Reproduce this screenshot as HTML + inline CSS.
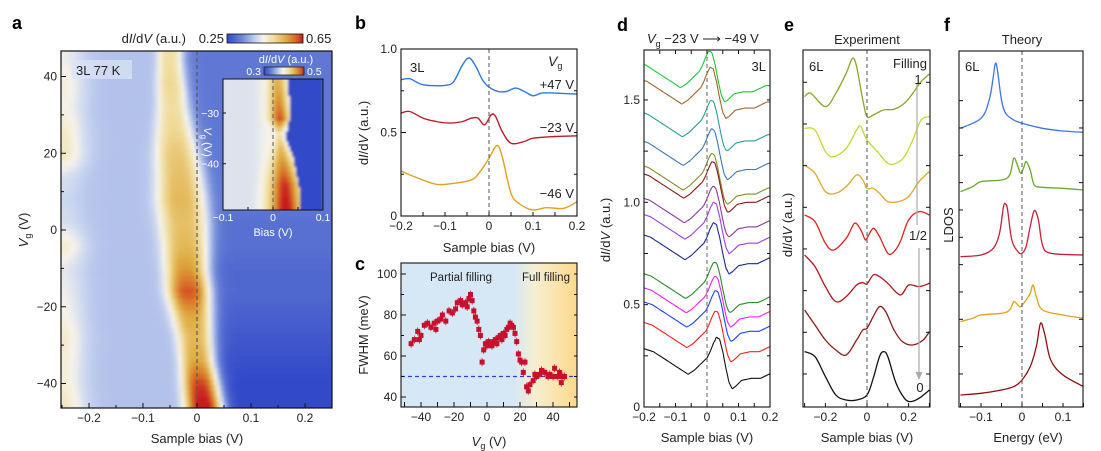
<!DOCTYPE html>
<html><head><meta charset="utf-8"><style>
html,body{margin:0;padding:0;background:#fff;}
svg{display:block;font-family:"Liberation Sans",sans-serif;}
</style></head><body>
<svg id="fig" width="1101" height="451" viewBox="0 0 1101 451" xmlns="http://www.w3.org/2000/svg">
<defs>
<linearGradient id="cbar" x1="0" x2="1" y1="0" y2="0">
<stop offset="0" stop-color="#3048c8"/><stop offset="0.2" stop-color="#7088d8"/><stop offset="0.38" stop-color="#c8d4f0"/><stop offset="0.48" stop-color="#f6f3ea"/><stop offset="0.62" stop-color="#f0dc9c"/><stop offset="0.78" stop-color="#deaa40"/><stop offset="0.9" stop-color="#d86a28"/><stop offset="1" stop-color="#c81e1e"/>
</linearGradient>
<linearGradient id="cbg" x1="0" x2="1" y1="0" y2="0">
<stop offset="0" stop-color="#d6e8f5"/><stop offset="0.35" stop-color="#f6eed0"/><stop offset="1" stop-color="#fdd98a"/>
</linearGradient>
<clipPath id="clipA"><rect x="61" y="51" width="271" height="357"/></clipPath>
<clipPath id="clipI"><rect x="223" y="79" width="100" height="131"/></clipPath>
<filter id="blur" x="0" y="0" width="1" height="1"><feGaussianBlur stdDeviation="1.2"/></filter>
</defs>
<g id="root"></g>
</svg>
<script>
// ---------- Panel a heatmap data ----------
const hmVg = [-46,-40,-34,-28,-22,-16,-10,-4,2,8,14,20,26,32,38,44,47];
const hmCenter = [0.012,0.006,0.0,-0.004,-0.01,-0.016,-0.02,-0.022,-0.025,-0.03,-0.033,-0.038,-0.042,-0.045,-0.048,-0.05,-0.05];
const hmAmp = [0.28,0.25,0.18,0.16,0.18,0.24,0.19,0.16,0.15,0.16,0.15,0.14,0.12,0.11,0.12,0.11,0.11];
const hmWidth = [0.026,0.025,0.024,0.025,0.028,0.03,0.03,0.032,0.034,0.034,0.032,0.03,0.026,0.022,0.02,0.018,0.018];
const hmRight = [0.25,0.25,0.26,0.27,0.28,0.29,0.29,0.3,0.3,0.31,0.31,0.31,0.31,0.31,0.31,0.31,0.31];
const hmLeft = [0.09,0.07,0.07,0.08,0.06,0.05,0.04,0.08,0.03,0.02,0.03,0.09,0.08,0.06,0.07,0.05,0.05];
// inset data (increasing Vg)
const inVg = [-49,-44,-40,-37,-34,-31,-28,-23];
const inCenter = [0.026,0.024,0.02,0.016,0.012,0.014,0.012,0.01];
const inAmp = [0.12,0.11,0.08,0.06,0.03,0.1,0.08,0.06];
const inWidth = [0.022,0.02,0.016,0.01,0.005,0.013,0.013,0.012];
// ---------- Panel b ----------
const bX_blue = [-0.2,-0.18,-0.15,-0.1,-0.08,-0.06,-0.045,-0.03,-0.015,0,0.02,0.04,0.06,0.08,0.1,0.12,0.15,0.2];
const bY_blue = [0.816,0.822,0.786,0.782,0.806,0.906,0.946,0.896,0.816,0.772,0.746,0.746,0.766,0.746,0.72,0.736,0.736,0.73];
const bX_red = [-0.2,-0.18,-0.15,-0.12,-0.09,-0.06,-0.04,-0.025,-0.01,0.005,0.015,0.03,0.05,0.08,0.1,0.15,0.2];
const bY_red = [0.616,0.626,0.586,0.566,0.556,0.566,0.586,0.586,0.546,0.606,0.596,0.506,0.436,0.446,0.466,0.476,0.48];
const bX_orange = [-0.2,-0.17,-0.12,-0.08,-0.04,-0.02,0,0.018,0.03,0.05,0.07,0.1,0.13,0.17,0.2];
const bY_orange = [0.27,0.236,0.19,0.196,0.216,0.266,0.346,0.422,0.356,0.136,0.072,0.036,0.05,0.046,0.086];
// ---------- Panel c ----------
const cVg = [-46,-44,-42,-41,-40,-38,-36,-34,-32,-31,-30,-28,-27,-25,-23,-21,-19,-18,-16,-15,-13,-12,-11,-10,-9,-8,-7,-6,-5,-4,-3,-2,-1,0,1,2,3,4,5,6,7,8,9,10,11,12,13,14,15,16,17,18,19,20,21,22,23,24,25,26,28,29,30,32,33,35,37,38,40,41,43,44,45,46,47];
const cFWHM = [66,68,72,68,70,75,76,74,76,73,77,78,80,77,82,81,83,86,87,85,86,84,88,90,87,82,79,77,73,70,57,63,66,65,67,66,65,67,68,66,69,70,68,71,70,73,74,76,75,74,71,67,61,58,57,52,57,45,43,46,48,51,50,51,53,52,50,51,50,54,50,52,47,50,50];
// ---------- Panel d ----------
const dOffsets = [1.69,1.61,1.45,1.31,1.19,1.15,1.03,0.95,0.85,0.66,0.59,0.52,0.42,0.29];
const dPeak = [0.006,0.01,0.012,0.014,0.014,0.016,0.018,0.02,0.02,0.022,0.024,0.026,0.026,0.03];
const dColors = ["#22c43a","#a0672a","#2a9a9a","#3a78b8","#8a8a20","#8a1818","#8a3a9a","#9a40e0","#1a2a8a","#2a8a2a","#f020f0","#2040f0","#f02020","#101010"];
const dShapeX = [-0.22,-0.18,-0.15,-0.12,-0.09,-0.07,-0.05,-0.03,-0.01,0.0,0.01,0.02,0.03,0.04,0.05,0.06,0.07,0.08,0.1,0.13,0.16,0.2];
const dShapeY = [0,-0.02,-0.05,-0.08,-0.11,-0.13,-0.11,-0.08,-0.05,-0.02,0.02,0.05,0.04,-0.02,-0.1,-0.17,-0.2,-0.19,-0.16,-0.15,-0.15,-0.12];
// ---------- Panel e ----------
const eX = [
 [-0.3,-0.27,-0.2,-0.15,-0.1,-0.07,-0.05,-0.02,0,0.03,0.08,0.13,0.18,0.22,0.26,0.3],
 [-0.3,-0.25,-0.2,-0.16,-0.1,-0.05,-0.03,0,0.05,0.1,0.14,0.18,0.22,0.26,0.3],
 [-0.3,-0.25,-0.2,-0.15,-0.1,-0.05,-0.02,0,0.03,0.06,0.1,0.15,0.2,0.25,0.3],
 [-0.3,-0.25,-0.2,-0.16,-0.1,-0.06,-0.03,-0.01,0,0.03,0.06,0.1,0.13,0.16,0.2,0.25,0.3],
 [-0.3,-0.25,-0.2,-0.15,-0.1,-0.05,-0.02,0,0.03,0.06,0.1,0.16,0.2,0.25,0.3],
 [-0.3,-0.25,-0.2,-0.15,-0.1,-0.05,-0.02,0,0.03,0.06,0.09,0.13,0.17,0.22,0.27,0.3],
 [-0.3,-0.25,-0.2,-0.15,-0.1,-0.05,0,0.03,0.06,0.08,0.1,0.14,0.18,0.21,0.25,0.3]];
const eY = [
 [93.2,94.2,90.2,94.2,100.2,104.7,102.2,92.2,87.2,87.7,89.2,89.4,91.2,94.2,97.7,100],
 [83.7,83.2,76.7,75.2,77.7,83.2,84.2,80.2,76.7,73.2,73.2,75.2,80.2,86.2,87.2],
 [72.7,70.2,64.7,64.2,66.2,69.7,68.2,65.7,65.7,64.2,61.7,61.7,63.2,67.7,70.7],
 [57.7,55.7,49.2,47.2,50.7,55.2,53.2,50.4,50.7,53.7,51.2,46.2,46.7,49.7,56.2,58.7,57.7],
 [45.7,42.2,36.2,31.7,33.2,36.7,37.4,37,39.7,39.2,37.2,33.7,36.7,36.2,37.2],
 [29.2,24.7,20.2,17.2,15.7,20.2,23.2,23.7,27.2,30.2,28.7,23.2,19.7,18.7,20.2,22.7],
 [16.7,15.2,9.2,3.7,2.2,2.2,3.7,8.7,15.2,16.7,15.2,7.2,2.7,1.7,2.7,5.2]];
const eColors = ["#8aa52a","#c6d62c","#e0a722","#e02020","#b01818","#8b1a1a","#111111"];
// ---------- Panel f ----------
const fX = [
 [-0.15,-0.1,-0.08,-0.07,-0.065,-0.06,-0.05,-0.04,-0.02,0,0.05,0.1,0.15],
 [-0.15,-0.12,-0.1,-0.05,-0.03,-0.02,-0.01,-0.003,0.005,0.01,0.02,0.03,0.05,0.1,0.15],
 [-0.15,-0.1,-0.07,-0.055,-0.045,-0.04,-0.035,-0.025,-0.01,0,0.01,0.02,0.03,0.04,0.05,0.07,0.15],
 [-0.15,-0.12,-0.1,-0.05,-0.03,-0.02,-0.01,-0.003,0.01,0.02,0.027,0.035,0.05,0.1,0.15],
 [-0.15,-0.1,-0.05,-0.02,0,0.02,0.035,0.045,0.055,0.07,0.1,0.15]];
const fY = [
 [83.7,86.7,92.2,99.2,103.2,101.2,92.2,88.2,86.2,85.2,83.7,82.9,82.5],
 [64.7,66.2,67.7,68.2,69.7,74.7,72.2,70.2,72.2,73.7,71.2,66.7,66,65.7,65.2],
 [45.2,45.7,47.7,52.2,60.2,61,59.2,50.2,46.7,46.2,48.2,54.2,59,56.2,48.7,46.2,45.7],
 [25.7,26.7,27.7,28.2,29.2,31.7,30.7,30.2,32.2,34.2,36.7,33.2,29.2,27.7,26.7],
 [3.7,4.2,5.2,6.2,8.2,12.2,18.2,25.2,22.2,14.2,9.7,6.2]];
const fColors = ["#3a78e0","#6aaa2a","#c81e3a","#e0a020","#8b1010"];

// ---------- helpers ----------
const NS = "http://www.w3.org/2000/svg";
const root = document.getElementById("root");
function mk(tag, attrs, parent){ const e=document.createElementNS(NS,tag); for(const k in attrs) e.setAttribute(k,attrs[k]); (parent||root).appendChild(e); return e; }
function txt(x,y,s,size,anchor,parent,extra){ const t=mk("text",Object.assign({x:x,y:y,"font-size":size,"text-anchor":anchor||"middle",fill:"#222"},extra||{}),parent); t.textContent=s; return t; }
function smooth(pts){ let d="M"+pts[0][0].toFixed(1)+","+pts[0][1].toFixed(1);
 for(let i=0;i<pts.length-1;i++){ const p0=pts[Math.max(0,i-1)],p1=pts[i],p2=pts[i+1],p3=pts[Math.min(pts.length-1,i+2)];
  const c1=[p1[0]+(p2[0]-p0[0])/6,p1[1]+(p2[1]-p0[1])/6], c2=[p2[0]-(p3[0]-p1[0])/6,p2[1]-(p3[1]-p1[1])/6];
  d+=" C"+c1[0].toFixed(1)+","+c1[1].toFixed(1)+" "+c2[0].toFixed(1)+","+c2[1].toFixed(1)+" "+p2[0].toFixed(1)+","+p2[1].toFixed(1);} return d; }
function interp(xs,ys,x){ if(x<=xs[0]) return ys[0]; for(let i=0;i<xs.length-1;i++){ if(x<=xs[i+1]){const t=(x-xs[i])/(xs[i+1]-xs[i]); return ys[i]+t*(ys[i+1]-ys[i]);}} return ys[ys.length-1]; }
const cstops=[[0,[48,72,200]],[0.2,[112,136,216]],[0.38,[200,212,240]],[0.48,[246,243,234]],[0.62,[240,220,156]],[0.78,[222,170,64]],[0.9,[216,106,40]],[1,[200,30,30]]];
function cmap(t){ t=Math.max(0,Math.min(1,t)); for(let i=0;i<cstops.length-1;i++){ if(t<=cstops[i+1][0]){const a=cstops[i],b=cstops[i+1],u=(t-a[0])/(b[0]-a[0]); return "rgb("+a[1].map((v,k)=>Math.round(v+u*(b[1][k]-v))).join(",")+")";}} return "rgb(200,30,30)"; }

// ---------- Panel a ----------
const xa=b=>197+b*540, ya=v=>230-v*3.8375;
const gA = mk("g",{"clip-path":"url(#clipA)"});  
const gAi = mk("g",{filter:"url(#blur)"},gA);
for(let vg=-47; vg<=48; vg+=1.5){
 const c=interp(hmVg,hmCenter,vg), A=interp(hmVg,hmAmp,vg), w=interp(hmVg,hmWidth,vg), R=interp(hmVg,hmRight,vg), L=interp(hmVg,hmLeft,vg);
 for(let b=-0.26;b<=0.26;b+=0.006){
  const z=(b-c)/w; const peak=A*Math.exp(-Math.pow(Math.abs(z),3)/2);
  const step=1/(1+Math.exp((b-(c+w*1.6))/0.008));
  const base=R+(0.385-R)*step + L*Math.exp(-Math.pow((b+0.25)/0.04,2));
  const v=base+peak;
  mk("rect",{x:xa(b-0.003).toFixed(1),y:ya(vg+0.75).toFixed(1),width:(0.006*540+0.6).toFixed(1),height:(1.5*3.8375+0.6).toFixed(1),fill:cmap((v-0.25)/0.4)},gAi);
 }
}
mk("line",{x1:xa(0),x2:xa(0),y1:51,y2:408,stroke:"#555","stroke-width":1.1,"stroke-dasharray":"4,3"});
// inset
const xi=b=>273+b*500, yi=v=>113-(v+30)*5.07;
const gI = mk("g",{"clip-path":"url(#clipI)"});  
const gIi = mk("g",{filter:"url(#blur)"},gI);
for(let vg=-50; vg<=-22; vg+=1){
 const c=interp(inVg,inCenter,vg), A=interp(inVg,inAmp,vg), w=interp(inVg,inWidth,vg);
 for(let b=-0.1;b<=0.1;b+=0.004){
  const z=(b-c)/w; const peak=A*Math.exp(-Math.pow(Math.abs(z),2)/2);
  const edge=c+w+0.008;
  const base = 0.385+0.01*Math.exp(-Math.pow((b+0.01)/0.02,2));
  const v=(b<edge? base+peak : 0.3);
  mk("rect",{x:xi(b-0.002).toFixed(1),y:yi(vg+0.5).toFixed(1),width:2.6,height:(5.07+0.6).toFixed(1),fill:cmap((v-0.3)/0.2)},gIi);
 }
}
mk("line",{x1:xi(0),x2:xi(0),y1:79,y2:210,stroke:"#666","stroke-width":1.1,"stroke-dasharray":"4,3"});
mk("rect",{x:223,y:79,width:100,height:131,fill:"none",stroke:"#111","stroke-width":1});
[-30,-40].forEach(v=>{ mk("line",{x1:223,x2:226,y1:yi(v),y2:yi(v),stroke:"#111"}); txt(219,yi(v)+4,"−"+Math.abs(v),10.5,"end",null,{fill:"#fff"}); });
[-0.1,-0.05,0,0.05,0.1].forEach(v=>{ mk("line",{x1:xi(v),x2:xi(v),y1:207,y2:210,stroke:"#111"}); });
[[-0.1,"−0.1"],[0,"0"],[0.1,"0.1"]].forEach(p=>txt(xi(p[0]),221,p[1],10.5,"middle",null,{fill:"#fff"}));
txt(273,236,"Bias (V)",11,"middle",null,{fill:"#fff"});
const tiv=txt(204,142,"",11,"middle",null,{fill:"#fff",transform:"rotate(90 204 142)"}); tiv.innerHTML='<tspan font-style="italic">V</tspan><tspan font-size="8" dy="3">g</tspan><tspan dy="-3"> (V)</tspan>';
mk("rect",{x:264,y:67,width:40,height:8,fill:"url(#cbar)",stroke:"#222","stroke-width":0.8});
txt(261,75,"0.3",10.5,"end",null,{fill:"#fff"}); txt(307,75,"0.5",10.5,"start",null,{fill:"#fff"});
const icb=txt(286,63,"",11,"middle",null,{fill:"#fff"}); icb.innerHTML='d<tspan font-style="italic">I</tspan>/d<tspan font-style="italic">V</tspan> (a.u.)';
// a frame & ticks
mk("rect",{x:61,y:51,width:271,height:357,fill:"none",stroke:"#111","stroke-width":1.2});
mk("rect",{x:72,y:60,width:60,height:19,fill:"#dbe4f6",opacity:0.7});
txt(76,75,"3L   77 K",13,"start",null,{fill:"#222","xml:space":"preserve"});
for(let v=-40;v<=40;v+=10){ const l=(v%20===0)?5:3; mk("line",{x1:61,x2:61+l,y1:ya(v),y2:ya(v),stroke:"#111"}); }
[40,20,0,-20,-40].forEach(v=>txt(57,ya(v)+4,(v<0?"−":"")+Math.abs(v),12,"end"));
for(let b=-0.25;b<=0.251;b+=0.05){ const major=Math.abs(Math.round(b*10)-b*10)<1e-6; mk("line",{x1:xa(b),x2:xa(b),y1:408,y2:408-(major?5:3),stroke:"#111"}); }
[[-0.2,"−0.2"],[-0.1,"−0.1"],[0,"0"],[0.1,"0.1"],[0.2,"0.2"]].forEach(p=>txt(xa(p[0]),422,p[1],12));
txt(197,443,"Sample bias (V)",13);
const ta=txt(28,230,"",13,"middle",null,{transform:"rotate(-90 28 230)"}); ta.innerHTML='<tspan font-style="italic">V</tspan><tspan font-size="9" dy="3">g</tspan><tspan dy="-3"> (V)</tspan>';
mk("rect",{x:227,y:34,width:76,height:9,fill:"url(#cbar)",stroke:"#111","stroke-width":0.8});
txt(224,43,"0.25",13,"end"); txt(306,43,"0.65",13,"start");
const cbt=txt(186,43,"",13,"end"); cbt.innerHTML='d<tspan font-style="italic">I</tspan>/d<tspan font-style="italic">V</tspan> (a.u.)';

// ---------- Panel b ----------
const xb=b=>489+b*440, yb=v=>216-v*167;
[[bX_blue,bY_blue,"#2a7ae0","curve-b-47V"],[bX_red,bY_red,"#c0182a","curve-b-23V"],[bX_orange,bY_orange,"#e0a020","curve-b-46V"]].forEach(s=>{
 const p=mk("path",{d:smooth(s[0].map((x,i)=>[xb(x),yb(s[1][i])])),fill:"none",stroke:s[2],"stroke-width":1.4});
   });
mk("line",{x1:xb(0),x2:xb(0),y1:49,y2:216,stroke:"#555","stroke-width":1,"stroke-dasharray":"4,3"});
mk("rect",{x:401,y:49,width:176,height:167,fill:"none",stroke:"#111","stroke-width":1.1});
for(let v=0;v<=1.001;v+=0.25){ mk("line",{x1:401,x2:401+(v*2%1===0?5:3),y1:yb(v),y2:yb(v),stroke:"#111"}); mk("line",{x1:577,x2:574,y1:yb(v),y2:yb(v),stroke:"#111"}); }
[[0,"0"],[0.5,"0.5"],[1,"1.0"]].forEach(p=>txt(397,yb(p[0])+4,p[1],12,"end"));
for(let b=-0.2;b<=0.201;b+=0.05){ mk("line",{x1:xb(b),x2:xb(b),y1:216,y2:212,stroke:"#111"}); }
[[-0.2,"−0.2"],[-0.1,"−0.1"],[0,"0"],[0.1,"0.1"],[0.2,"0.2"]].forEach(p=>txt(xb(p[0]),230,p[1],12));
txt(489,252,"Sample bias (V)",13);
const tb=txt(368,133,"",13,"middle",null,{transform:"rotate(-90 368 133)"}); tb.innerHTML='d<tspan font-style="italic">I</tspan>/d<tspan font-style="italic">V</tspan> (a.u.)';
txt(410,72,"3L",13,"start");
const vg=txt(548,66,"",14,"start"); vg.innerHTML='<tspan font-style="italic">V</tspan><tspan font-size="9" dy="3">g</tspan>';
txt(574,89,"+47 V",13,"end"); txt(574,132,"−23 V",13,"end"); txt(574,198,"−46 V",13,"end");

// ---------- Panel c ----------
const xc=v=>487+v*1.65, yc=f=>274+(100-f)*2.05;
mk("rect",{x:401,y:263,width:176,height:144,fill:"#d6e8f5"});
mk("rect",{x:xc(16),y:263,width:577-xc(16),height:144,fill:"url(#cbg)"});
mk("line",{x1:401,x2:577,y1:yc(50),y2:yc(50),stroke:"#3040d0","stroke-width":1.2,"stroke-dasharray":"4,3"});
cVg.forEach((v,i)=>{ const r=mk("rect",{x:(xc(v)-2.5).toFixed(1),y:(yc(cFWHM[i])-2.5).toFixed(1),width:5,height:5,fill:"#c8102e"});
  
 mk("line",{x1:xc(v),x2:xc(v),y1:yc(cFWHM[i])-4,y2:yc(cFWHM[i])+4,stroke:"#c8102e","stroke-width":0.8}); });
mk("rect",{x:401,y:263,width:176,height:144,fill:"none",stroke:"#111","stroke-width":1.1});
for(let f=40;f<=100;f+=10){ mk("line",{x1:401,x2:401+(f%20===0?5:3),y1:yc(f),y2:yc(f),stroke:"#111"}); mk("line",{x1:577,x2:574,y1:yc(f),y2:yc(f),stroke:"#111"}); }
[40,60,80,100].forEach(f=>txt(397,yc(f)+4,""+f,12,"end"));
for(let v=-50;v<=50;v+=10){ mk("line",{x1:xc(v),x2:xc(v),y1:407,y2:402,stroke:"#111"}); }
[-40,-20,0,20,40].forEach(v=>txt(xc(v),421,(v<0?"−":"")+Math.abs(v),12));
const tc=txt(489,446,"",13); tc.innerHTML='<tspan font-style="italic">V</tspan><tspan font-size="9" dy="3">g</tspan><tspan dy="-3"> (V)</tspan>';
txt(368,335,"FWHM (meV)",13,"middle",null,{transform:"rotate(-90 368 335)"});
txt(461,281,"Partial filling",11.5); txt(546,281,"Full filling",11.5);

// ---------- Panel d ----------
const xd=b=>707+b*315, yd=v=>407-v*204.7;
dOffsets.forEach((off,k)=>{
 const sh=dPeak[k]-0.02; const pts=[];
 for(let x=-0.2;x<=0.2001;x+=0.005){ pts.push([xd(x),yd(off+interp(dShapeX,dShapeY,x-sh))]); }
 const p=mk("path",{d:smooth(pts),fill:"none",stroke:dColors[k],"stroke-width":1.1});
  
});
mk("line",{x1:xd(0),x2:xd(0),y1:50,y2:407,stroke:"#666","stroke-width":1,"stroke-dasharray":"4,3"});
mk("rect",{x:644,y:50,width:126,height:357,fill:"none",stroke:"#111","stroke-width":1.1});
for(let v=0;v<=1.701;v+=0.25){ mk("line",{x1:644,x2:644+4,y1:yd(v),y2:yd(v),stroke:"#111"}); mk("line",{x1:770,x2:767,y1:yd(v),y2:yd(v),stroke:"#111"}); }
[[0,"0"],[0.5,"0.5"],[1,"1.0"],[1.5,"1.5"]].forEach(p=>txt(640,yd(p[0])+4,p[1],12,"end"));
for(let b=-0.2;b<=0.201;b+=0.05){ mk("line",{x1:xd(b),x2:xd(b),y1:407,y2:403,stroke:"#111"}); mk("line",{x1:xd(b),x2:xd(b),y1:50,y2:54,stroke:"#111"}); }
[[-0.2,"−0.2"],[-0.1,"−0.1"],[0,"0"],[0.1,"0.1"],[0.2,"0.2"]].forEach(p=>txt(xd(p[0]),421,p[1],12));
txt(707,442,"Sample bias (V)",13);
const td=txt(610,230,"",13,"middle",null,{transform:"rotate(-90 610 230)"}); td.innerHTML='d<tspan font-style="italic">I</tspan>/d<tspan font-style="italic">V</tspan> (a.u.)';
txt(766,71,"3L",13,"end");
const tdt=txt(647,43,"",13,"start"); tdt.innerHTML='<tspan font-style="italic">V</tspan><tspan font-size="9" dy="4">g</tspan><tspan dy="-4"> −23 V  ⟶  −49 V</tspan>'; tdt.setAttribute("xml:space","preserve");

// ---------- Panel e ----------
const xe=b=>867+b*208, ye=v=>407.3-v*10/3;
eY.forEach((ys,k)=>{ const p=mk("path",{d:smooth(eX[k].map((x,i)=>[xe(x),ye(ys[i])])),fill:"none",stroke:eColors[k],"stroke-width":1.3});
   });
mk("line",{x1:xe(0),x2:xe(0),y1:50,y2:407,stroke:"#555","stroke-width":1,"stroke-dasharray":"4,3"});
mk("line",{x1:917,x2:917,y1:84,y2:225,stroke:"#aaa","stroke-width":1.2});
mk("line",{x1:919,x2:919,y1:248,y2:375,stroke:"#aaa","stroke-width":1.2});
mk("path",{d:"M915.5,372 L919,380 L922.5,372 Z",fill:"#aaa"});
mk("rect",{x:803,y:50,width:127,height:357,fill:"none",stroke:"#111","stroke-width":1.1});
for(let v=10;v<=100;v+=12.5){ mk("line",{x1:803,x2:807,y1:ye(v),y2:ye(v),stroke:"#111"}); mk("line",{x1:930,x2:926,y1:ye(v),y2:ye(v),stroke:"#111"}); }
for(let b=-0.3;b<=0.301;b+=0.1){ mk("line",{x1:xe(b),x2:xe(b),y1:407,y2:403,stroke:"#111"}); }
[[-0.2,"−0.2"],[0,"0"],[0.2,"0.2"]].forEach(p=>txt(xe(p[0]),421,p[1],12));
txt(867,442,"Sample bias (V)",13);
txt(867,44,"Experiment",13);
const te=txt(792,225,"",13,"middle",null,{transform:"rotate(-90 792 225)"}); te.innerHTML='d<tspan font-style="italic">I</tspan>/d<tspan font-style="italic">V</tspan> (a.u.)';
txt(809,71,"6L",13,"start"); txt(927,68,"Filling",13,"end"); txt(918,84,"1",13); txt(918,240,"1/2",13); txt(920,392,"0",13);

// ---------- Panel f ----------
const xf=e=>1022+e*410, yf=v=>407.3-v*10/3;
fY.forEach((ys,k)=>{ const p=mk("path",{d:smooth(fX[k].map((x,i)=>[xf(x),yf(ys[i])])),fill:"none",stroke:fColors[k],"stroke-width":1.3});
   });
mk("line",{x1:xf(0),x2:xf(0),y1:51,y2:407,stroke:"#555","stroke-width":1,"stroke-dasharray":"4,3"});
mk("rect",{x:959,y:51,width:124,height:356,fill:"none",stroke:"#111","stroke-width":1.1});
for(let v=10;v<=100;v+=8.2){ mk("line",{x1:959,x2:963,y1:yf(v),y2:yf(v),stroke:"#111"}); mk("line",{x1:1083,x2:1079,y1:yf(v),y2:yf(v),stroke:"#111"}); }
for(let e=-0.15;e<=0.151;e+=0.05){ mk("line",{x1:xf(e),x2:xf(e),y1:407,y2:403,stroke:"#111"}); }
[[-0.1,"−0.1"],[0,"0"],[0.1,"0.1"]].forEach(p=>txt(xf(p[0]),421,p[1],12));
txt(1028,442,"Energy (eV)",13);
txt(1022,44,"Theory",13);
txt(953,225,"LDOS",13,"middle",null,{transform:"rotate(-90 953 225)"});
txt(965,71,"6L",13,"start");

// panel letters
[["a",12,29],["b",355,29],["c",355,270],["d",617,31],["e",784,31],["f",944,31]].forEach(p=>{ const t=txt(p[1],p[2],p[0],18,"start",null,{"font-weight":"bold",fill:"#000"});   });
</script>
</body></html>
